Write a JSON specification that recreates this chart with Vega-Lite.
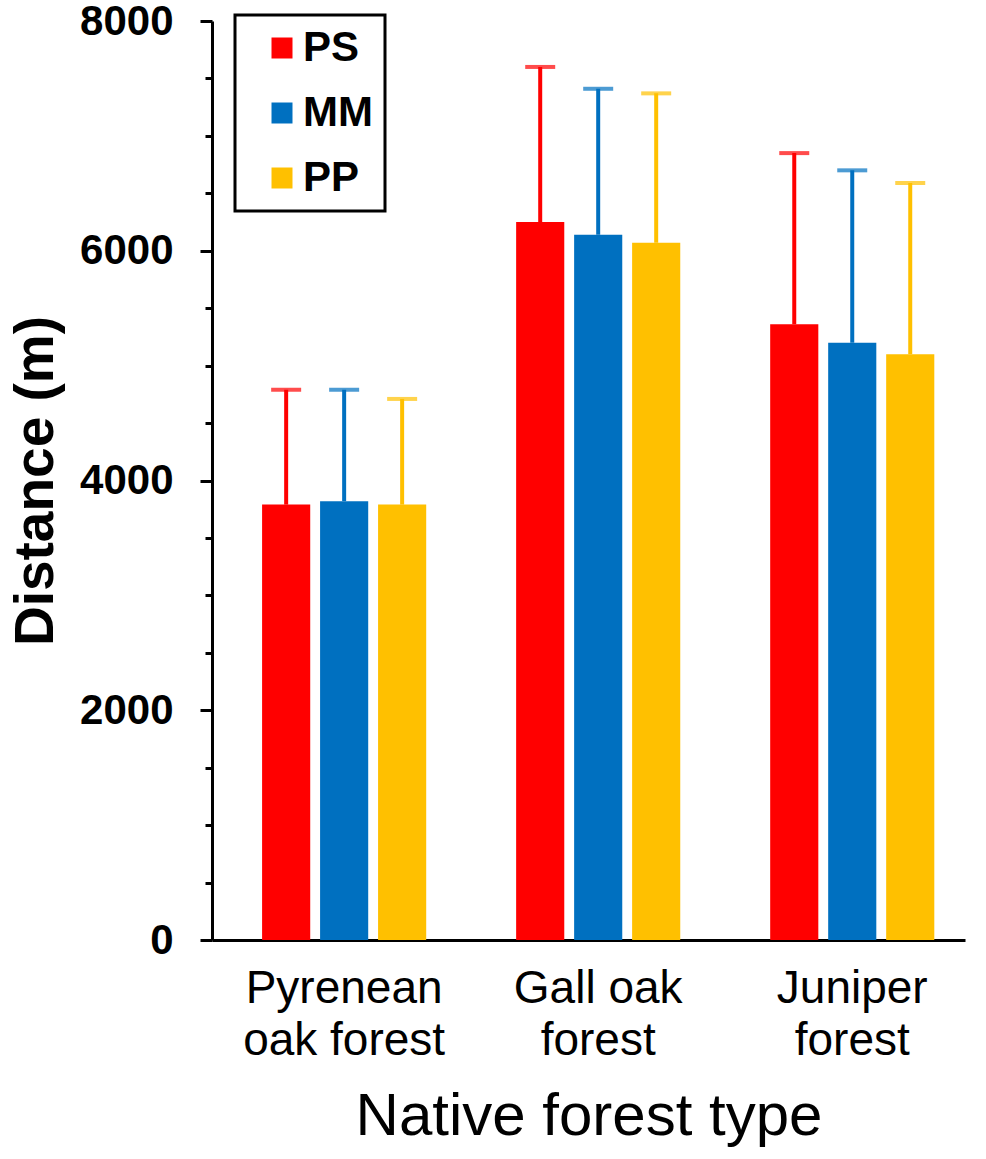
{
  "$schema": "https://vega.github.io/schema/vega-lite/v6.json",
  "width": 753,
  "height": 919,
  "autosize": {"type": "none"},
  "padding": {"left": 212, "top": 21, "right": 21, "bottom": 219},
  "background": "white",
  "config": {"view": {"stroke": null}, "font": "Liberation Sans", "axis": {"grid": false}},
  "data": {
    "values": [
      {"forest": "Pyrenean oak forest", "series": "PS", "mean": 3790, "upper": 4790},
      {"forest": "Pyrenean oak forest", "series": "MM", "mean": 3820, "upper": 4790},
      {"forest": "Pyrenean oak forest", "series": "PP", "mean": 3790, "upper": 4710},
      {"forest": "Gall oak forest", "series": "PS", "mean": 6250, "upper": 7600},
      {"forest": "Gall oak forest", "series": "MM", "mean": 6140, "upper": 7410},
      {"forest": "Gall oak forest", "series": "PP", "mean": 6070, "upper": 7370},
      {"forest": "Juniper forest", "series": "PS", "mean": 5360, "upper": 6850},
      {"forest": "Juniper forest", "series": "MM", "mean": 5200, "upper": 6700},
      {"forest": "Juniper forest", "series": "PP", "mean": 5100, "upper": 6590}
    ]
  },
  "encoding": {
    "x": {
      "field": "forest",
      "type": "nominal",
      "sort": ["Pyrenean oak forest", "Gall oak forest", "Juniper forest"],
      "scale": {"paddingInner": 0.354, "paddingOuter": 0.159, "align": 0.62},
      "axis": {
        "title": "Native forest type",
        "titleFontSize": 60,
        "titleFontWeight": "normal",
        "titleColor": "black",
        "titlePadding": 24,
        "labelExpr": "datum.label == 'Pyrenean oak forest' ? ['Pyrenean', 'oak forest'] : datum.label == 'Gall oak forest' ? ['Gall oak', 'forest'] : ['Juniper', 'forest']",
        "labelFontSize": 46,
        "labelColor": "black",
        "labelAngle": 0,
        "labelLineHeight": 52,
        "labelPadding": 26,
        "labelLimit": 0,
        "ticks": false,
        "domainColor": "black",
        "domainWidth": 3
      }
    },
    "xOffset": {
      "field": "series",
      "type": "nominal",
      "sort": ["PS", "MM", "PP"],
      "scale": {"paddingInner": 0.17, "paddingOuter": 0}
    }
  },
  "layer": [
    {
      "mark": {"type": "bar"},
      "encoding": {
        "y": {
          "field": "mean",
          "type": "quantitative",
          "scale": {"domain": [0, 8000], "nice": false},
          "axis": {
            "values": [0, 500, 1000, 1500, 2000, 2500, 3000, 3500, 4000, 4500, 5000, 5500, 6000, 6500, 7000, 7500, 8000],
            "format": "d",
            "labelExpr": "datum.value % 2000 === 0 ? datum.label : ''",
            "labelOverlap": false,
            "labelFlush": false,
            "tickSize": {"condition": {"test": "datum.value % 2000 === 0", "value": 12}, "value": 7},
            "tickWidth": 3,
            "tickColor": "black",
            "domainColor": "black",
            "domainWidth": 3,
            "labelFontSize": 42,
            "labelFontWeight": "bold",
            "labelColor": "black",
            "labelPadding": 27,
            "title": "Distance (m)",
            "titleFontSize": 55,
            "titleFontWeight": "bold",
            "titleColor": "black",
            "titlePadding": 15
          }
        },
        "color": {
          "field": "series",
          "type": "nominal",
          "sort": ["PS", "MM", "PP"],
          "scale": {"domain": ["PS", "MM", "PP"], "range": ["#FF0000", "#0070C0", "#FFC000"]},
          "legend": {
            "orient": "none",
            "legendX": 23,
            "legendY": -6,
            "title": null,
            "symbolType": "square",
            "symbolSize": 441,
            "symbolStrokeWidth": 0,
            "labelFontSize": 42,
            "labelFontWeight": "bold",
            "labelColor": "black",
            "strokeColor": "black",
            "fillColor": "white",
            "padding": 12,
            "rowPadding": 23,
            "labelOffset": 0,
            "symbolOffset": 14,
            "encode": {"legend": {"update": {"stroke": {"value": "black"}, "strokeWidth": {"value": 3}}}}
          }
        }
      }
    },
    {
      "mark": {"type": "rule", "strokeWidth": 4},
      "encoding": {
        "y": {"field": "mean", "type": "quantitative", "title": "Distance (m)"},
        "y2": {"field": "upper"},
        "color": {"field": "series", "type": "nominal", "legend": null}
      }
    },
    {
      "mark": {"type": "tick", "thickness": 4, "size": 30},
      "encoding": {
        "y": {"field": "upper", "type": "quantitative", "title": "Distance (m)"},
        "color": {"field": "series", "type": "nominal", "legend": null}
      }
    }
  ]
}
